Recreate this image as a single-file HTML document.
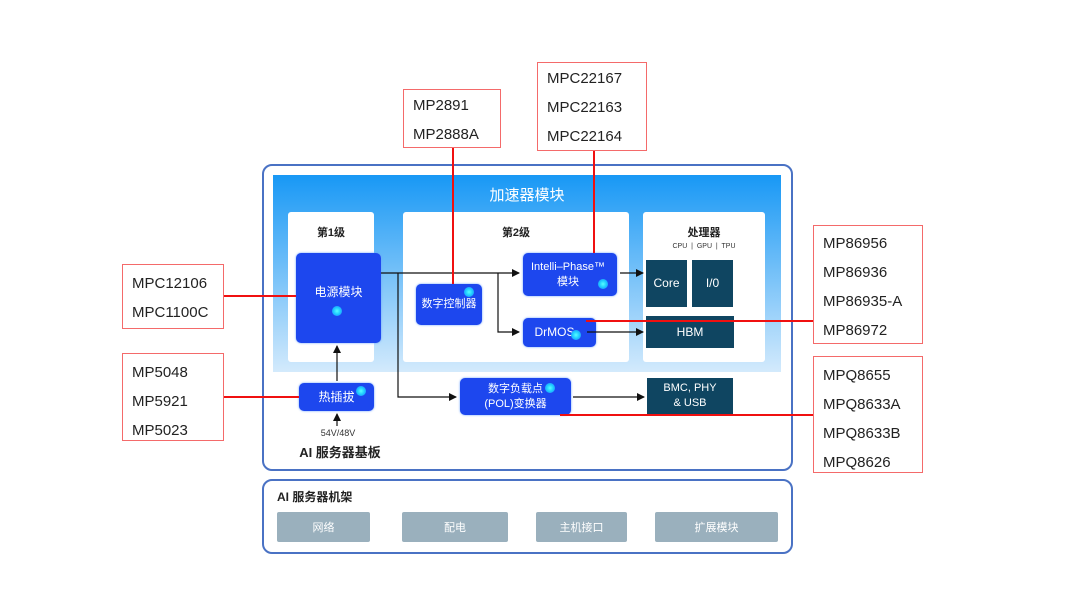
<!DOCTYPE html>
<html><head><meta charset="utf-8"><style>
body{margin:0;width:1080px;height:608px;background:#fff;position:relative;overflow:hidden;font-family:"Liberation Sans","Noto Sans CJK SC",sans-serif}
div{position:absolute;box-sizing:border-box}
.rb{border:1.5px solid #f46a6a;background:#fff;color:#222;font-size:15px;padding-left:9px}
.rb span{display:block;height:29px;line-height:29px}
.panel{background:#fff;border-radius:3px;font-size:11px;font-weight:bold;color:#222;text-align:center;padding-top:12px}
.bl{background:#1d47ee;border-radius:5px;color:#fff;font-size:11px;display:flex;align-items:center;justify-content:center;text-align:center;line-height:15px;box-shadow:0 0 2px #6aa0ff}
.dk{background:#0f4561;color:#fff;font-size:11px;display:flex;align-items:center;justify-content:center;text-align:center;line-height:15px}
.gr{background:#9ab0bd;color:#fff;font-size:11px;display:flex;align-items:center;justify-content:center;border-radius:2px}
.dot{width:10px;height:10px;border-radius:50%;background:radial-gradient(circle,#5ff 0,#1cc8ff 50%,#2a7bff 100%)}
</style></head><body>
<div style="left:262px;top:164px;width:531px;height:307px;border:2px solid #4a72c4;border-radius:10px"></div>
<div style="left:273px;top:175px;width:508px;height:197px;background:linear-gradient(#1898f5,#d3eafc)"></div>
<div style="left:273px;top:184px;width:508px;text-align:center;color:#fff;font-size:15px">加速器模块</div>
<div class="panel" style="left:288px;top:212px;width:86px;height:150px">第1级</div>
<div class="panel" style="left:403px;top:212px;width:226px;height:150px">第2级</div>
<div class="panel" style="left:643px;top:212px;width:122px;height:150px">处理器<div style="position:static;font-size:7px;font-weight:normal;color:#333;margin-top:3px">CPU &nbsp;|&nbsp; GPU &nbsp;|&nbsp; TPU</div></div>
<div class="bl" style="left:296px;top:253px;width:85px;height:90px;font-size:12px;padding-bottom:12px">电源模块</div>
<div class="dot" style="left:332px;top:306px"></div>
<div class="bl" style="left:416px;top:284px;width:66px;height:41px">数字控制器</div>
<div class="dot" style="left:464px;top:287px"></div>
<div class="bl" style="left:523px;top:253px;width:94px;height:43px;padding-right:4px">Intelli–Phase™<br>模块</div>
<div class="dot" style="left:598px;top:279px"></div>
<div class="bl" style="left:523px;top:318px;width:73px;height:29px;font-size:12px;padding-right:10px">DrMOS</div>
<div class="dot" style="left:571px;top:330px"></div>
<div class="dk" style="left:646px;top:260px;width:41px;height:47px;font-size:12px">Core</div>
<div class="dk" style="left:692px;top:260px;width:41px;height:47px;font-size:12px">I/0</div>
<div class="dk" style="left:646px;top:316px;width:88px;height:32px;font-size:12px">HBM</div>
<div class="bl" style="left:299px;top:383px;width:75px;height:28px;font-size:12px">热插拔</div>
<div class="dot" style="left:356px;top:386px"></div>
<div class="bl" style="left:460px;top:378px;width:111px;height:37px">数字负载点<br>(POL)变换器</div>
<div class="dot" style="left:545px;top:383px"></div>
<div class="dk" style="left:647px;top:378px;width:86px;height:36px">BMC, PHY<br>&amp; USB</div>
<div style="left:310px;top:428px;width:56px;text-align:center;font-size:9px;color:#333">54V/48V</div>
<div style="left:290px;top:442px;width:100px;text-align:center;font-size:13px;font-weight:bold;color:#222">AI 服务器基板</div>

<div style="left:262px;top:479px;width:531px;height:75px;border:2px solid #4a72c4;border-radius:10px"></div>
<div style="left:277px;top:488px;font-size:12px;font-weight:bold;color:#222">AI 服务器机架</div>
<div class="gr" style="left:277px;top:512px;width:93px;height:30px">网络</div>
<div class="gr" style="left:402px;top:512px;width:106px;height:30px">配电</div>
<div class="gr" style="left:536px;top:512px;width:91px;height:30px">主机接口</div>
<div class="gr" style="left:655px;top:512px;width:123px;height:30px">扩展模块</div>

<div class="rb" style="left:122px;top:264px;width:102px;height:65px;padding-top:4px"><span>MPC12106</span><span>MPC1100C</span></div>
<div class="rb" style="left:122px;top:353px;width:102px;height:88px;padding-top:4px"><span>MP5048</span><span>MP5921</span><span>MP5023</span></div>
<div class="rb" style="left:403px;top:89px;width:98px;height:59px;padding-top:1px"><span>MP2891</span><span>MP2888A</span></div>
<div class="rb" style="left:537px;top:62px;width:110px;height:89px;padding-top:1px"><span>MPC22167</span><span>MPC22163</span><span>MPC22164</span></div>
<div class="rb" style="left:813px;top:225px;width:110px;height:119px;padding-top:3px"><span>MP86956</span><span>MP86936</span><span>MP86935-A</span><span>MP86972</span></div>
<div class="rb" style="left:813px;top:356px;width:110px;height:117px;padding-top:4px"><span>MPQ8655</span><span>MPQ8633A</span><span>MPQ8633B</span><span>MPQ8626</span></div>

<svg style="position:absolute;left:0;top:0" width="1080" height="608">
<defs><marker id="a" markerWidth="8" markerHeight="8" refX="7" refY="4" orient="auto" markerUnits="userSpaceOnUse"><path d="M0,0 L8,4 L0,8 z" fill="#111"/></marker></defs>
<g stroke="#111" stroke-width="1.2" fill="none">
<path d="M381,273 H519" marker-end="url(#a)"/>
<path d="M498,273 V332 H519" marker-end="url(#a)"/>
<path d="M398,273 V397 H456" marker-end="url(#a)"/>
<path d="M620,273 H643" marker-end="url(#a)"/>
<path d="M587,332 H643" marker-end="url(#a)"/>
<path d="M573,397 H644" marker-end="url(#a)"/>
<path d="M337,381 V346" marker-end="url(#a)"/>
<path d="M337,426 V414" marker-end="url(#a)"/>
</g>
<g stroke="#f01010" stroke-width="2" fill="none">
<path d="M224,296 H296"/>
<path d="M224,397 H299"/>
<path d="M453,148 V284"/>
<path d="M594,151 V253"/>
<path d="M586,321 H813"/>
<path d="M560,415 H813"/>
</g>
</svg>
</body></html>
